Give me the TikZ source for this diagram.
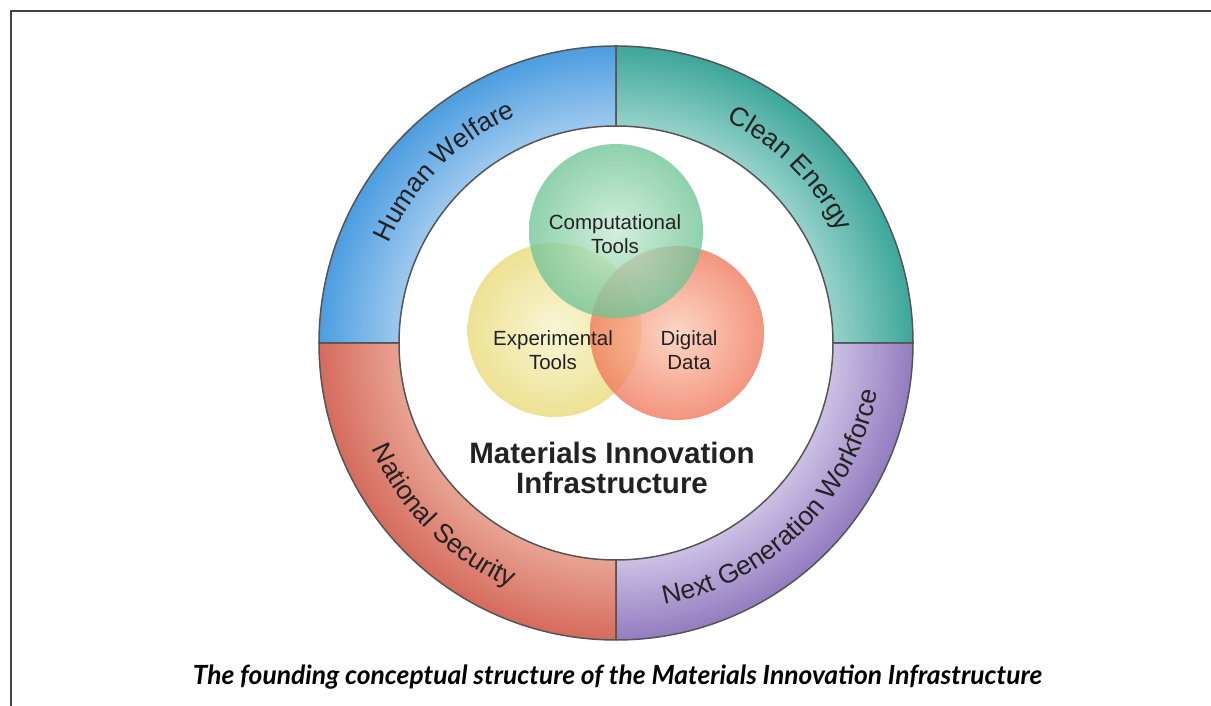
\documentclass[tikz,border=0pt]{standalone}
\usepackage{fontspec}
\setmainfont{Liberation Sans}
\newfontfamily\capfont{Lato}
\usetikzlibrary{decorations.text,calc}
\definecolor{txt}{HTML}{222222}
\definecolor{ringline}{HTML}{555555}
\definecolor{framec}{HTML}{444444}
\definecolor{rbL}{HTML}{A0CAEF}\definecolor{rbD}{HTML}{4C9DE0}
\definecolor{rtL}{HTML}{98D3CB}\definecolor{rtD}{HTML}{3DA69A}
\definecolor{rrL}{HTML}{E9A595}\definecolor{rrD}{HTML}{D56B5D}
\definecolor{rpL}{HTML}{CDC2E5}\definecolor{rpD}{HTML}{937CC0}
\definecolor{vgL}{HTML}{C6E9D3}\definecolor{vgD}{HTML}{6FC495}
\definecolor{vyL}{HTML}{F7F3CC}\definecolor{vyD}{HTML}{E8D974}
\definecolor{vrL}{HTML}{FCCBB6}\definecolor{vrD}{HTML}{F0775A}
\pgfdeclareradialshading{ringblue}{\pgfpoint{0bp}{0bp}}{color(0bp)=(rbL); color(214bp)=(rbL); color(296bp)=(rbD); color(300bp)=(rbD)}
\pgfdeclareradialshading{ringteal}{\pgfpoint{0bp}{0bp}}{color(0bp)=(rtL); color(214bp)=(rtL); color(296bp)=(rtD); color(300bp)=(rtD)}
\pgfdeclareradialshading{ringred}{\pgfpoint{0bp}{0bp}}{color(0bp)=(rrL); color(214bp)=(rrL); color(296bp)=(rrD); color(300bp)=(rrD)}
\pgfdeclareradialshading{ringpurple}{\pgfpoint{0bp}{0bp}}{color(0bp)=(rpL); color(214bp)=(rpL); color(296bp)=(rpD); color(300bp)=(rpD)}
\newcommand\ringquad[2]{($(C)+(#1:297pt)$) arc[start angle=#1,end angle=#2,radius=297pt] -- ($(C)+(#2:217pt)$) arc[start angle=#2,end angle=#1,radius=217pt] -- cycle}
\newcommand\ringtxt{\fontsize{26.5}{30}\selectfont\color{txt}}
\begin{document}
\begin{tikzpicture}[x=1pt,y=1pt,
  ringedge/.style={draw=ringline, line width=1.5pt},
  shadebox/.style={inner sep=0pt, outer sep=0pt},
  venn/.style={circle, minimum size=174pt, inner sep=0pt, fill opacity=0.78},
  vtext/.style={align=center, inner sep=0pt, text=txt, font=\fontsize{20.5}{24}\selectfont},
  ringlabel/.style={decorate, decoration={text along path, text align=center, text={|\ringtxt|#1}}}]
\useasboundingbox (0,0) rectangle (1211,706);
\coordinate (C) at (616,363);
% frame
\draw[framec, line width=1.5pt] (11,0) -- (11,695) -- (1211,695);
% ring quadrants
\begin{scope}\clip \ringquad{90}{180}; \node[shadebox] (shB) at (C) {\pgfuseshading{ringblue}}; \end{scope}
\begin{scope}\clip \ringquad{0}{90}; \node[shadebox] (shT) at (C) {\pgfuseshading{ringteal}}; \end{scope}
\begin{scope}\clip \ringquad{180}{270}; \node[shadebox] (shR) at (C) {\pgfuseshading{ringred}}; \end{scope}
\begin{scope}\clip \ringquad{270}{360}; \node[shadebox] (shP) at (C) {\pgfuseshading{ringpurple}}; \end{scope}
\draw[ringedge] \ringquad{90}{180};
\draw[ringedge] \ringquad{0}{90};
\draw[ringedge] \ringquad{180}{270};
\draw[ringedge] \ringquad{270}{360};
% ring labels
\path[ringlabel={Human Welfare}] ($(C)+(180:248pt)$) arc[start angle=180,end angle=90,radius=248pt];
\path[ringlabel={Clean Energy}] ($(C)+(90:248pt)$) arc[start angle=90,end angle=0,radius=248pt];
\path[ringlabel={National Security}] ($(C)+(180:266pt)$) arc[start angle=180,end angle=270,radius=266pt];
\path[ringlabel={Next Generation Workforce}] ($(C)+(270:266pt)$) arc[start angle=270,end angle=360,radius=266pt];
% venn circles
\node[venn, inner color=vyL, outer color=vyD] (exp) at (554.5,376) {};
\node[venn, inner color=vrL, outer color=vrD] (dig) at (677,373) {};
\node[venn, inner color=vgL, outer color=vgD] (comp) at (616,475) {};
\node[vtext] (comptxt) at (615,472) {Computational\\Tools};
\node[vtext] (exptxt) at (553,356) {Experimental\\Tools};
\node[vtext] (digtxt) at (689,356) {Digital\\Data};
% title
\node[align=center, inner sep=0pt, text=txt, font=\bfseries\fontsize{29.5}{30}\selectfont] (title) at (612,238) {Materials Innovation\\Infrastructure};
% caption
\node[anchor=base, inner sep=0pt, font=\capfont\bfseries\itshape\fontsize{26.4}{30}\selectfont] (caption) at (617.5,21) {The founding conceptual structure of the Materials Innovation Infrastructure};
\end{tikzpicture}
\end{document}
